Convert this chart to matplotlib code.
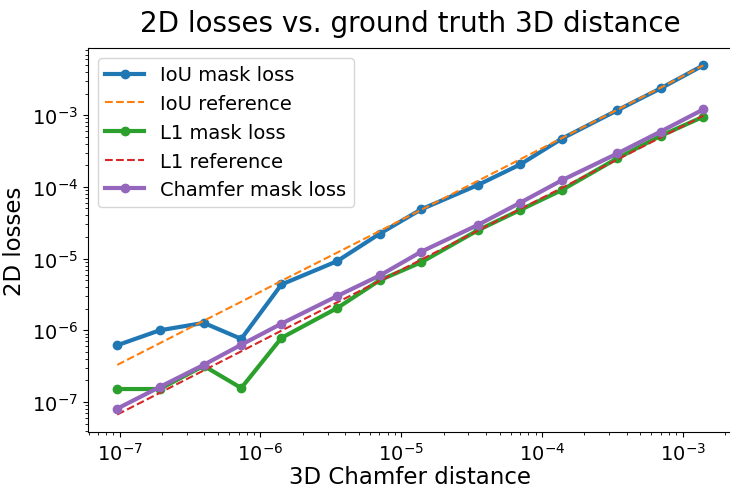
import matplotlib
matplotlib.use("Agg")
import matplotlib.pyplot as plt
import numpy as np

# 3D chamfer distance (x) for each run
chamfer_3d = [9.6e-8, 1.92e-7, 3.95e-7, 7.3e-7, 1.41e-6, 3.5e-6, 7.05e-6,
              1.39e-5, 3.5e-5, 7.0e-5, 1.39e-4, 3.44e-4, 6.97e-4, 1.4e-3]

iou_loss = [6.2e-7, 1.0e-6, 1.27e-6, 7.6e-7, 4.36e-6, 9.2e-6, 2.23e-5,
            4.87e-5, 1.06e-4, 2.05e-4, 4.72e-4, 1.17e-3, 2.36e-3, 4.94e-3]
iou_ref = [3.3e-7, 6.6e-7, 1.36e-6, 2.5e-6, 4.9e-6, 1.21e-5, 2.43e-5,
           4.8e-5, 1.21e-4, 2.42e-4, 4.8e-4, 1.19e-3, 2.41e-3, 4.94e-3]
l1_loss = [1.52e-7, 1.52e-7, 3.2e-7, 1.57e-7, 7.85e-7, 2.04e-6, 5.0e-6,
           8.9e-6, 2.48e-5, 4.76e-5, 9.06e-5, 2.51e-4, 5.14e-4, 9.5e-4]
l1_ref = [6.7e-8, 1.34e-7, 2.76e-7, 5.1e-7, 9.9e-7, 2.45e-6, 4.9e-6,
          9.7e-6, 2.45e-5, 4.9e-5, 9.7e-5, 2.41e-4, 4.88e-4, 9.8e-4]
chamfer_loss = [8.1e-8, 1.62e-7, 3.3e-7, 6.3e-7, 1.24e-6, 3.0e-6, 5.82e-6,
                1.25e-5, 2.94e-5, 6.0e-5, 1.24e-4, 2.92e-4, 5.9e-4, 1.2e-3]

fig = plt.figure(figsize=(7.3, 4.89), dpi=100)
ax = fig.add_axes([0.1205, 0.1145, 0.883, 0.7855])

ax.plot(chamfer_3d, iou_loss, "-o", color="tab:blue", lw=3, ms=6, label="IoU mask loss")
ax.plot(chamfer_3d, iou_ref, "--", color="tab:orange", lw=1.5, label="IoU reference")
ax.plot(chamfer_3d, l1_loss, "-o", color="tab:green", lw=3, ms=6, label="L1 mask loss")
ax.plot(chamfer_3d, l1_ref, "--", color="tab:red", lw=1.5, label="L1 reference")
ax.plot(chamfer_3d, chamfer_loss, "-o", color="tab:purple", lw=3, ms=6, label="Chamfer mask loss")

ax.set_xscale("log")
ax.set_yscale("log")
ax.set_xlabel("3D Chamfer distance", fontsize=16.5, labelpad=1)
ax.set_ylabel("2D losses", fontsize=16.5)
ax.set_title("2D losses vs. ground truth 3D distance", fontsize=20, pad=12)
ax.tick_params(labelsize=14)
ax.legend(loc="upper left", fontsize=14)

fig.savefig("out.png", dpi=100)
